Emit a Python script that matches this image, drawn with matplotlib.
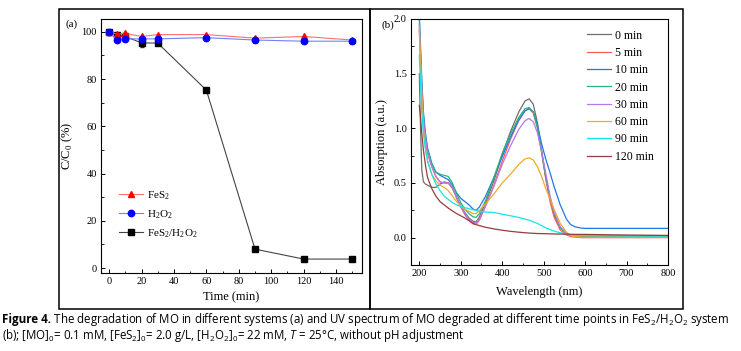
import matplotlib
matplotlib.use("Agg")
import numpy as np
import pandas as pd
import matplotlib.pyplot as plt
from matplotlib import font_manager
from matplotlib.patches import Rectangle
from matplotlib.ticker import MultipleLocator

# ---- data, panel (a) ----
time_min = [0, 5, 10, 20, 30, 60, 90, 120, 150]
fes2 = [100, 99.0, 99.3, 98.0, 98.8, 98.8, 97.3, 98.0, 96.5]
h2o2 = [100, 96.5, 97.0, 97.0, 97.0, 97.5, 96.5, 96.0, 96.0]
fes2_h2o2 = [100, 98.5, 98.0, 95.3, 95.2, 75.3, 8.0, 3.8, 3.8]
fes2_h2o2_err = [0.3, 0.6, 0.5, 1.9, 0.8, 0.7, 0.6, 0.9, 0.7]

# ---- data, panel (b) ----
wl = [200, 203, 206, 210, 215, 220, 230, 240, 250, 260, 270, 280, 290, 300,
      310, 320, 330, 337, 345, 360, 380, 400, 420, 440, 455, 465, 475, 485,
      495, 505, 515, 525, 540, 555, 565, 575, 590, 600, 650, 700, 750, 800]
spec = pd.DataFrame({"wl": wl})
spec["0 min"] = [1.50, 1.00, 0.62, 0.51, 0.49, 0.48, 0.46, 0.46, 0.49, 0.51, 0.50, 0.45, 0.37, 0.29,
                 0.23, 0.18, 0.15, 0.145, 0.19, 0.32, 0.52, 0.76, 0.97, 1.15, 1.25, 1.27, 1.22, 1.05,
                 0.80, 0.55, 0.35, 0.21, 0.09, 0.04, 0.022, 0.015, 0.012, 0.012, 0.012, 0.012, 0.012, 0.012]
spec["5 min"] = [1.90, 1.60, 1.30, 1.05, 0.88, 0.77, 0.65, 0.56, 0.51, 0.50, 0.50, 0.46, 0.36, 0.28,
                 0.21, 0.16, 0.125, 0.12, 0.16, 0.29, 0.48, 0.70, 0.90, 1.07, 1.16, 1.18, 1.14, 1.00,
                 0.78, 0.54, 0.34, 0.19, 0.07, 0.025, 0.01, 0.005, 0.0, 0.0, 0.0, 0.0, 0.0, 0.0]
spec["10 min"] = [2.05, 1.75, 1.45, 1.15, 0.95, 0.82, 0.68, 0.60, 0.57, 0.55, 0.53, 0.48, 0.41, 0.36,
                  0.33, 0.30, 0.26, 0.25, 0.28, 0.38, 0.55, 0.74, 0.92, 1.08, 1.16, 1.18, 1.15, 1.03,
                  0.86, 0.72, 0.60, 0.47, 0.30, 0.17, 0.12, 0.10, 0.088, 0.085, 0.085, 0.085, 0.085, 0.085]
spec["20 min"] = [2.00, 1.70, 1.40, 1.10, 0.92, 0.80, 0.68, 0.60, 0.58, 0.57, 0.56, 0.50, 0.40, 0.32,
                  0.26, 0.22, 0.19, 0.185, 0.22, 0.34, 0.55, 0.77, 0.95, 1.10, 1.18, 1.19, 1.15, 1.01,
                  0.79, 0.56, 0.37, 0.23, 0.09, 0.04, 0.025, 0.02, 0.015, 0.012, 0.01, 0.01, 0.01, 0.01]
spec["30 min"] = [1.95, 1.65, 1.35, 1.08, 0.90, 0.78, 0.65, 0.56, 0.51, 0.50, 0.50, 0.46, 0.37, 0.29,
                  0.22, 0.17, 0.14, 0.135, 0.17, 0.29, 0.47, 0.67, 0.84, 0.99, 1.07, 1.09, 1.06, 0.96,
                  0.79, 0.59, 0.39, 0.24, 0.10, 0.04, 0.025, 0.02, 0.02, 0.02, 0.02, 0.02, 0.02, 0.02]
spec["60 min"] = [1.92, 1.60, 1.30, 1.00, 0.82, 0.70, 0.58, 0.52, 0.48, 0.46, 0.43, 0.38, 0.33, 0.29,
                  0.26, 0.24, 0.22, 0.22, 0.25, 0.31, 0.40, 0.50, 0.58, 0.67, 0.72, 0.73, 0.71, 0.65,
                  0.56, 0.45, 0.36, 0.26, 0.13, 0.05, 0.02, 0.01, 0.005, 0.005, 0.005, 0.005, 0.005, 0.005]
spec["90 min"] = [1.67, 1.40, 1.15, 0.95, 0.80, 0.70, 0.58, 0.49, 0.43, 0.38, 0.35, 0.32, 0.30, 0.285,
                  0.275, 0.265, 0.255, 0.25, 0.24, 0.235, 0.23, 0.215, 0.20, 0.185, 0.17, 0.16, 0.145, 0.13,
                  0.11, 0.09, 0.075, 0.06, 0.045, 0.03, 0.025, 0.02, 0.02, 0.02, 0.018, 0.016, 0.015, 0.015]
spec["120 min"] = [1.21, 1.10, 0.95, 0.80, 0.66, 0.55, 0.45, 0.38, 0.33, 0.30, 0.27, 0.245, 0.22, 0.20,
                   0.18, 0.155, 0.13, 0.12, 0.11, 0.095, 0.08, 0.068, 0.058, 0.05, 0.045, 0.042, 0.04, 0.038,
                   0.037, 0.036, 0.035, 0.034, 0.033, 0.032, 0.031, 0.03, 0.03, 0.03, 0.027, 0.024, 0.022, 0.02]
spec_colors = ["#6e6e6e", "#ff5a5a", "#1e78e6", "#28b478", "#b478f0", "#f0aa28", "#14e6e6", "#963c3c"]

# fonts
names = {f.name for f in font_manager.fontManager.ttflist}
cap_font = "Liberation Sans Narrow" if "Liberation Sans Narrow" in names else "Open Sans"
plt.rcParams["font.family"] = "Liberation Serif"
plt.rcParams["mathtext.fontset"] = "custom"
plt.rcParams["mathtext.rm"] = "Liberation Serif"
plt.rcParams["mathtext.it"] = cap_font + ":italic"
plt.rcParams["mathtext.sf"] = cap_font
plt.rcParams["xtick.direction"] = "in"
plt.rcParams["ytick.direction"] = "in"

fig = plt.figure(figsize=(7.41, 3.51), dpi=100)
W, H = 741.0, 351.0

def px_axes(l, t, r, b):
    return fig.add_axes([l / W, 1 - b / H, (r - l) / W, (b - t) / H])

# frames round the two panels
for x0, x1 in [(59, 370), (370, 683)]:
    fig.add_artist(Rectangle((x0 / W, 1 - 309 / H), (x1 - x0) / W, 300 / H,
                             transform=fig.transFigure, fill=False, ec="black", lw=1.1))

# ---- panel (a) ----
ax = px_axes(101, 19, 362, 273)
eb = ax.errorbar(time_min, fes2_h2o2, yerr=fes2_h2o2_err, color="#444444", lw=0.8, marker="s", ms=4.5,
                 mfc="black", mec="black", ecolor="#333333", elinewidth=0.7, capsize=1.5, zorder=2)
l1, = ax.plot(time_min, fes2, color="#ff7070", lw=0.8, marker="^", ms=5, mfc="red", mec="red", zorder=3)
l2, = ax.plot(time_min, h2o2, color="#7080ff", lw=0.8, marker="o", ms=4.6, mfc="blue", mec="blue", zorder=4)
ax.set_xlim(-5, 156)
ax.set_ylim(-2.1, 105.4)
ax.xaxis.set_major_locator(MultipleLocator(20))
ax.xaxis.set_minor_locator(MultipleLocator(10))
ax.yaxis.set_major_locator(MultipleLocator(20))
ax.yaxis.set_minor_locator(MultipleLocator(10))
ax.tick_params(labelsize=7.5, length=3, width=0.7, pad=3)
ax.tick_params(which="minor", length=1.8, width=0.6)
ax.set_xlabel("Time (min)", fontsize=9, labelpad=4)
ax.set_ylabel("C/C$_0$ (%)", fontsize=9, labelpad=5)
for s in ax.spines.values():
    s.set_linewidth(0.8)
ax.legend([l1, l2, eb.lines[0]], ["FeS$_2$", "H$_2$O$_2$", "FeS$_2$/H$_2$O$_2$"],
          loc="upper left", bbox_to_anchor=(0.03, 0.37),
          frameon=False, fontsize=8, handlelength=2.2, handletextpad=0.3, labelspacing=0.55)
fig.text(72 / W, 1 - 24 / H, "(a)", fontsize=8, ha="center", va="center")

# ---- panel (b) ----
bx = px_axes(411, 19, 668, 265)
for name, c in zip(spec.columns[1:], spec_colors):
    bx.plot(spec["wl"], spec[name], color=c, lw=0.9, label=name)
bx.set_xlim(180, 800)
bx.set_ylim(-0.25, 2.0)
bx.xaxis.set_major_locator(MultipleLocator(100))
bx.xaxis.set_minor_locator(MultipleLocator(50))
bx.yaxis.set_major_locator(MultipleLocator(0.5))
bx.yaxis.set_minor_locator(MultipleLocator(0.25))
bx.tick_params(labelsize=7.5, length=3, width=0.7, pad=3)
bx.tick_params(which="minor", length=1.8, width=0.6)
bx.set_xlabel("Wavelength (nm)", fontsize=9, labelpad=6)
bx.set_ylabel("Absorption (a.u.)", fontsize=9, labelpad=4)
for s in bx.spines.values():
    s.set_linewidth(0.8)
bx.legend(loc="upper right", bbox_to_anchor=(0.985, 1.0), frameon=False, fontsize=8.5,
          handlelength=2.0, handletextpad=0.3, labelspacing=0.45)
fig.text(388 / W, 1 - 25 / H, "(b)", fontsize=8, ha="center", va="center")

# ---- caption ----
t1 = fig.text(2 / W, 1 - 320 / H, "Figure 4.", fontsize=8.4, family=cap_font,
              weight="bold", va="center")
ax.annotate(" The degradation of MO in different systems (a) and UV spectrum of MO degraded at "
            "different time points in FeS$_\\mathsf{2}$/H$_\\mathsf{2}$O$_\\mathsf{2}$ system",
            xy=(1, 0.5), xycoords=t1, va="center", fontsize=8.3, family=cap_font,
            annotation_clip=False)
fig.text(2 / W, 1 - 336 / H, "(b); [MO]$_\\mathsf{0}$= 0.1 mM, [FeS$_\\mathsf{2}$]$_\\mathsf{0}$= 2.0 g/L, "
         "[H$_\\mathsf{2}$O$_\\mathsf{2}$]$_\\mathsf{0}$= 22 mM, $T$ = 25\u00b0C, without pH adjustment",
         fontsize=8.3, family=cap_font, va="center")

fig.savefig("out.png", dpi=100)
